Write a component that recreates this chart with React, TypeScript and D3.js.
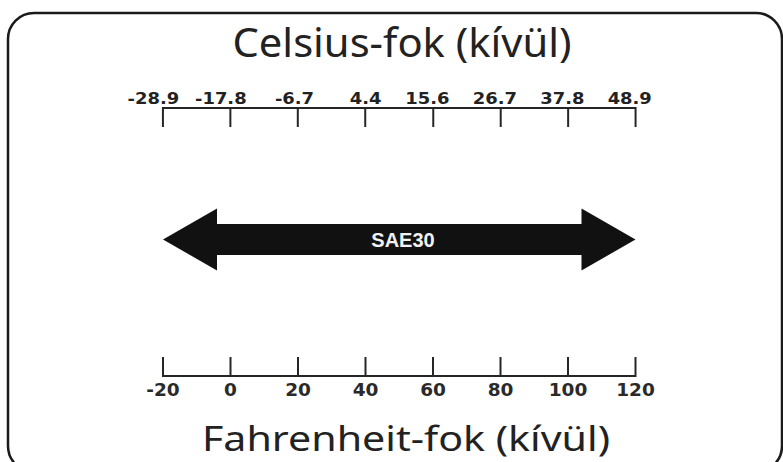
import React from 'react';
import * as d3 from 'd3';

// temperature scale data
const fahrenheitTicks = [-20, 0, 20, 40, 60, 80, 100, 120];
const celsiusLabels = ['-28.9', '-17.8', '-6.7', '4.4', '15.6', '26.7', '37.8', '48.9'];
const oilGrades = ['SAE30'];
const gradeRangeF = [[-20, 120]];
const topTitle = 'Celsius-fok (kívül)';
const bottomTitle = 'Fahrenheit-fok (kívül)';

const W = 783;
const H = 462;

const App = () => {
  const x = d3.scaleLinear().domain([-20, 120]).range([163, 635.5]);
  const c2f = (c: number) => c * 9 / 5 + 32;

  const topY = 108;
  const bottomY = 376;
  const tickLen = 19;
  const arrowY = 239.5;
  const headLen = 54;
  const headHalf = 31;
  const shaftHalf = 15.5;

  const arrowPath = (f0: number, f1: number) => {
    const x0 = x(f0);
    const x1 = x(f1);
    const p = d3.path();
    p.moveTo(x0, arrowY);
    p.lineTo(x0 + headLen, arrowY - headHalf);
    p.lineTo(x0 + headLen, arrowY - shaftHalf);
    p.lineTo(x1 - headLen, arrowY - shaftHalf);
    p.lineTo(x1 - headLen, arrowY - headHalf);
    p.lineTo(x1, arrowY);
    p.lineTo(x1 - headLen, arrowY + headHalf);
    p.lineTo(x1 - headLen, arrowY + shaftHalf);
    p.lineTo(x0 + headLen, arrowY + shaftHalf);
    p.lineTo(x0 + headLen, arrowY + headHalf);
    p.closePath();
    return p.toString();
  };

  const ink = '#262626';
  const labelFont = 'DejaVu Sans, Verdana, sans-serif';

  return (
    <svg width={W} height={H} style={{ position: 'absolute', left: 0, top: 0, background: '#fff' }}>
      <rect x={8} y={13} width={774} height={459} rx={26} ry={26}
        fill="none" stroke="#1a1a1a" strokeWidth={2.5} />

      <text x={402} y={57} textAnchor="middle" fontFamily="Noto Sans, Open Sans, sans-serif"
        fontSize={40} fill="#222" textLength={339} lengthAdjust="spacingAndGlyphs">{topTitle}</text>

      {/* Celsius axis */}
      <line x1={x(-20)} x2={x(120)} y1={topY} y2={topY} stroke={ink} strokeWidth={2} />
      {celsiusLabels.map(lab => {
        const xp = x(c2f(+lab));
        const [intPart, frac] = lab.split('.');
        return (
          <g key={lab}>
            <line x1={xp} x2={xp} y1={topY - 1} y2={topY + tickLen} stroke={ink} strokeWidth={2} />
            <g transform={`translate(${xp - 3},104) scale(1.12,1)`} fontFamily={labelFont}
              fontWeight="bold" fontSize={16} fill="#222">
              <text textAnchor="end">{intPart}</text>
              <text textAnchor="start">{'.' + frac}</text>
            </g>
          </g>
        );
      })}

      {/* range arrow */}
      {gradeRangeF.map((r, i) => (
        <g key={oilGrades[i]}>
          <path d={arrowPath(r[0], r[1])} fill="#111" />
          <text x={403} y={247} textAnchor="middle" fontFamily="Liberation Sans, Arial, sans-serif"
            fontWeight="bold" fontSize={20} fill="#f2f2f2">{oilGrades[i]}</text>
        </g>
      ))}

      {/* Fahrenheit axis */}
      <line x1={x(-20)} x2={x(120)} y1={bottomY} y2={bottomY} stroke={ink} strokeWidth={2} />
      {fahrenheitTicks.map(t => (
        <g key={t}>
          <line x1={x(t)} x2={x(t)} y1={bottomY + 1} y2={bottomY - tickLen} stroke={ink} strokeWidth={2} />
          <text x={x(t)} y={396} textAnchor="middle" fontFamily={labelFont} fontWeight="bold"
            fontSize={18.5} fill="#2a2a2a">{t}</text>
        </g>
      ))}

      <text x={406} y={451} textAnchor="middle" fontFamily="Noto Sans, Open Sans, sans-serif"
        fontSize={35} fill="#222" textLength={408} lengthAdjust="spacingAndGlyphs">{bottomTitle}</text>
    </svg>
  );
};

export default App;
